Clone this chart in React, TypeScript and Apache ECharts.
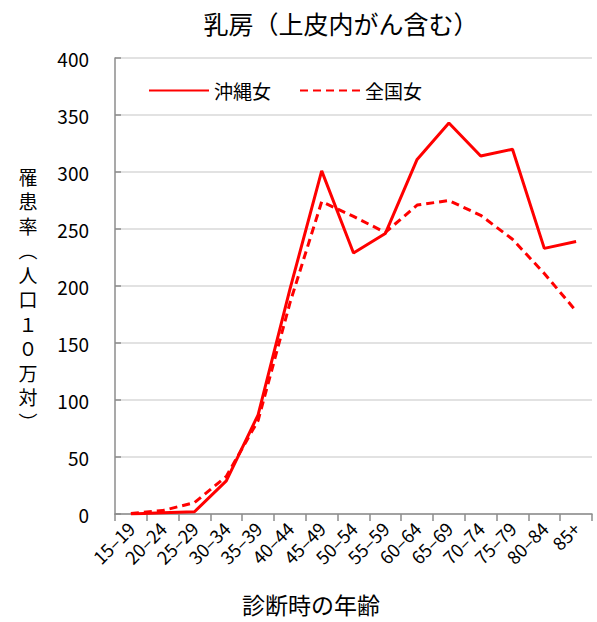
import React, { useEffect, useRef } from "react";
import * as echarts from "echarts";

const categories = ["15–19","20–24","25–29","30–34","35–39","40–44","45–49","50–54","55–59","60–64","65–69","70–74","75–79","80–84","85+"];
const okinawa = [0, 1, 2, 29, 87, 197, 301, 229, 246, 311, 343, 314, 320, 233, 239];
const national = [0.5, 3, 10, 33, 82, 185, 274, 261, 247, 271, 275, 262, 241, 211, 178];
const yTicks = { min: 0, max: 400, interval: 50 };
const titleText = "乳房（上皮内がん含む）";
const yName = ["罹","患","率","︵","人","口","１","０","万","対","︶"];
const xName = "診断時の年齢";
const FONT = "'Noto Sans CJK JP', 'Noto Sans', sans-serif";

export default function App() {
  const ref = useRef<HTMLDivElement>(null);
  useEffect(() => {
    const chart = echarts.init(ref.current!, null, { renderer: "svg" });
    const yNameTexts = yName.map((ch, i) => ({
      type: "text",
      x: 28,
      y: 176 + i * 24.5,
      style: {
        text: ch,
        fontFamily: FONT,
        fontSize: 19,
        lineHeight: 21,
        fill: "#000",
        align: "center",
        verticalAlign: "middle",
      },
    }));
    chart.setOption({
      animation: false,
      backgroundColor: "#ffffff",
      textStyle: { fontFamily: FONT, color: "#000" },
      title: {
        text: titleText,
        left: 336,
        top: 5,
        textAlign: "center",
        textStyle: { fontFamily: FONT, fontSize: 25, fontWeight: "normal", color: "#000" },
      },
      legend: {
        left: 143,
        top: 76,
        itemWidth: 60,
        itemHeight: 14,
        itemGap: 28,
        itemStyle: { opacity: 0 },
        textStyle: { fontFamily: FONT, fontSize: 19, color: "#000" },
        data: ["沖縄女", "全国女"],
      },
      grid: { left: 115, right: 5, top: 58, bottom: 108, containLabel: false },
      xAxis: {
        type: "category",
        data: categories,
        boundaryGap: true,
        axisLine: { lineStyle: { color: "#8c8c8c", width: 1.5 } },
        axisTick: { show: true, length: 7, lineStyle: { color: "#8c8c8c", width: 1.5 } },
        axisLabel: { rotate: 45, interval: 0, fontSize: 18, color: "#000", fontFamily: FONT, margin: 11 },
      },
      yAxis: {
        type: "value",
        min: yTicks.min,
        max: yTicks.max,
        interval: yTicks.interval,
        axisLine: { show: true, lineStyle: { color: "#8c8c8c", width: 1.5 } },
        axisTick: { show: true, inside: true, length: 6, lineStyle: { color: "#8c8c8c", width: 1.5 } },
        axisLabel: { fontSize: 19, color: "#000", fontFamily: FONT, margin: 26 },
        splitLine: { lineStyle: { color: "#d9d9d9", width: 1.5 } },
      },
      series: [
        {
          name: "沖縄女",
          type: "line",
          data: okinawa,
          symbol: "none",
          lineStyle: { color: "#ff0000", width: 3 },
          itemStyle: { color: "#ff0000" },
        },
        {
          name: "全国女",
          type: "line",
          data: national,
          symbol: "none",
          lineStyle: { color: "#ff0000", width: 3, type: [8, 5] },
          itemStyle: { color: "#ff0000" },
        },
      ],
      graphic: [
        ...yNameTexts,
        {
          type: "text",
          left: 242,
          top: 592,
          style: { text: xName, fontFamily: FONT, fontSize: 23, fill: "#000" },
        },
      ],
    });
    return () => chart.dispose();
  }, []);
  return <div ref={ref} style={{ width: 597, height: 622, position: "absolute", left: 0, top: 0 }} />;
}
